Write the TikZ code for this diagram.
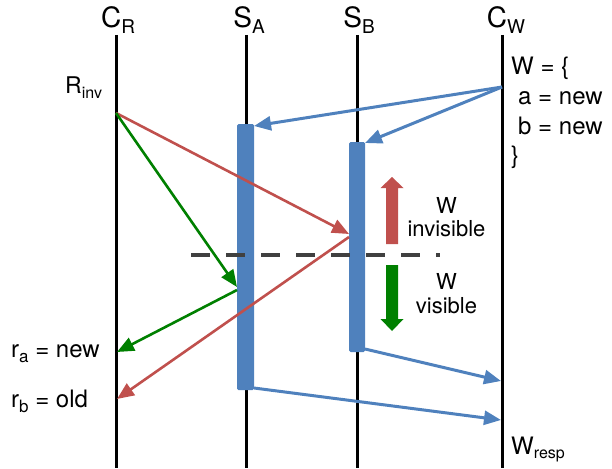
\documentclass[tikz,border=0pt]{standalone}
\usepackage{fontspec}
\setmainfont{TeX Gyre Heros}
\usetikzlibrary{arrows.meta}
\definecolor{cblue}{HTML}{4F81BD}
\definecolor{cred}{HTML}{C0504D}
\definecolor{cgreen}{HTML}{008000}
\definecolor{cdash}{HTML}{404040}
\newcommand{\mysub}[3]{\raisebox{-#3pt}{\fontsize{#2pt}{#2pt}\selectfont #1}}
\begin{document}
\begin{tikzpicture}[x=1pt,y=-1pt,
  life/.style={line width=3pt,black},
  actbar/.style={fill=cblue,draw=none,rounded corners=1.5pt,inner sep=0pt},
  msg/.style={line width=2.6pt,-{Triangle[length=17pt,width=14pt]}},
  bluemsg/.style={msg,cblue,line width=3pt},
  redmsg/.style={msg,cred},
  greenmsg/.style={msg,cgreen},
  head/.style={anchor=base,inner sep=0pt,font=\fontsize{28pt}{28pt}\selectfont},
  txt/.style={anchor=base west,inner sep=0pt,font=\fontsize{24pt}{24pt}\selectfont},
  side/.style={anchor=base,inner sep=0pt,font=\fontsize{22pt}{22pt}\selectfont},
  fatarrow/.style={draw=none}
]
\useasboundingbox (0,0) rectangle (612,468);
% headers
\node[head] (hCR) at (118,28) {C\mysub{R}{19}{6}};
\node[head] (hSA) at (249,28) {S\mysub{A}{19}{6}};
\node[head] (hSB) at (359,28) {S\mysub{B}{19}{6}};
\node[head] (hCW) at (506,28) {C\mysub{W}{19}{6}};
% lifelines
\coordinate (lCRt) at (116,35); \coordinate (lCRb) at (116,468);
\coordinate (lSAt) at (246,35); \coordinate (lSAb) at (246,468);
\coordinate (lSBt) at (357,35); \coordinate (lSBb) at (357,468);
\coordinate (lCWt) at (502,35); \coordinate (lCWb) at (502,468);
\draw[life] (lCRt) -- (lCRb);
\draw[life] (lSAt) -- (lSAb);
\draw[life] (lSBt) -- (lSBb);
\draw[life] (lCWt) -- (lCWb);
% activation bars
\node[actbar,minimum width=17pt,minimum height=266pt] (barA) at (245.5,257) {};
\node[actbar,minimum width=16pt,minimum height=210pt] (barB) at (357,247) {};
% message points
\coordinate (rinv) at (116,113);
\coordinate (wsend) at (502,87);
\coordinate (aIn) at (254,126);
\coordinate (bIn) at (365,143);
\coordinate (bRd) at (349,234);
\coordinate (bRdOut) at (349,237);
\coordinate (aRd) at (237,287);
\coordinate (aRdOut) at (237,290);
\coordinate (ra) at (117,352);
\coordinate (rb) at (117,399);
\coordinate (bOut) at (365,349);
\coordinate (aOut) at (254,388);
\coordinate (wr1) at (501,381);
\coordinate (wr2) at (501,420);
% messages
\draw[bluemsg] (wsend) -- (aIn);
\draw[bluemsg] (wsend) -- (bIn);
\draw[redmsg] (rinv) -- (bRd);
\draw[greenmsg] (rinv) -- (aRd);
\draw[greenmsg] (aRdOut) -- (ra);
\draw[redmsg] (bRdOut) -- (rb);
\draw[bluemsg] (bOut) -- (wr1);
\draw[bluemsg] (aOut) -- (wr2);
% dashed divider
\coordinate (dl) at (191,255); \coordinate (dr) at (440,255);
\draw[cdash,line width=4pt,dash pattern=on 19pt off 16pt] (dl) -- (dr);
% fat arrows
\fill[cred] (386,244) -- (386,188) -- (380.5,188) -- (392,177) -- (403.5,188) -- (398,188) -- (398,244) -- cycle;
\fill[cgreen] (386,265) -- (386,319) -- (380.5,319) -- (392,331) -- (403.5,319) -- (398,319) -- (398,265) -- cycle;
% side labels
\node[side] (w1) at (446.5,213) {W};
\node[side] (inv) at (446.5,236) {invisible};
\node[side] (w2) at (446.5,289) {W};
\node[side] (vis) at (446.5,313) {visible};
% write block
\node[txt] (wopen) at (511,75) {W = \{};
\node[txt] (wa) at (518,105) {a = new};
\node[txt] (wb) at (518,134) {b = new};
\node[txt] (wclose) at (511,163) {\}};
% reader labels
\node[anchor=base west,inner sep=0pt,font=\fontsize{23pt}{23pt}\selectfont] (lrinv) at (65,94) {R\mysub{inv}{16}{5}};
\node[txt] (lra) at (11,357) {r\mysub{a}{17}{5} = new};
\node[txt] (lrb) at (11,407) {r\mysub{b}{17}{5} = old};
\node[anchor=base west,inner sep=0pt,font=\fontsize{24pt}{24pt}\selectfont] (lwresp) at (511,454) {W\mysub{resp}{16}{4}};
\end{tikzpicture}
\end{document}
